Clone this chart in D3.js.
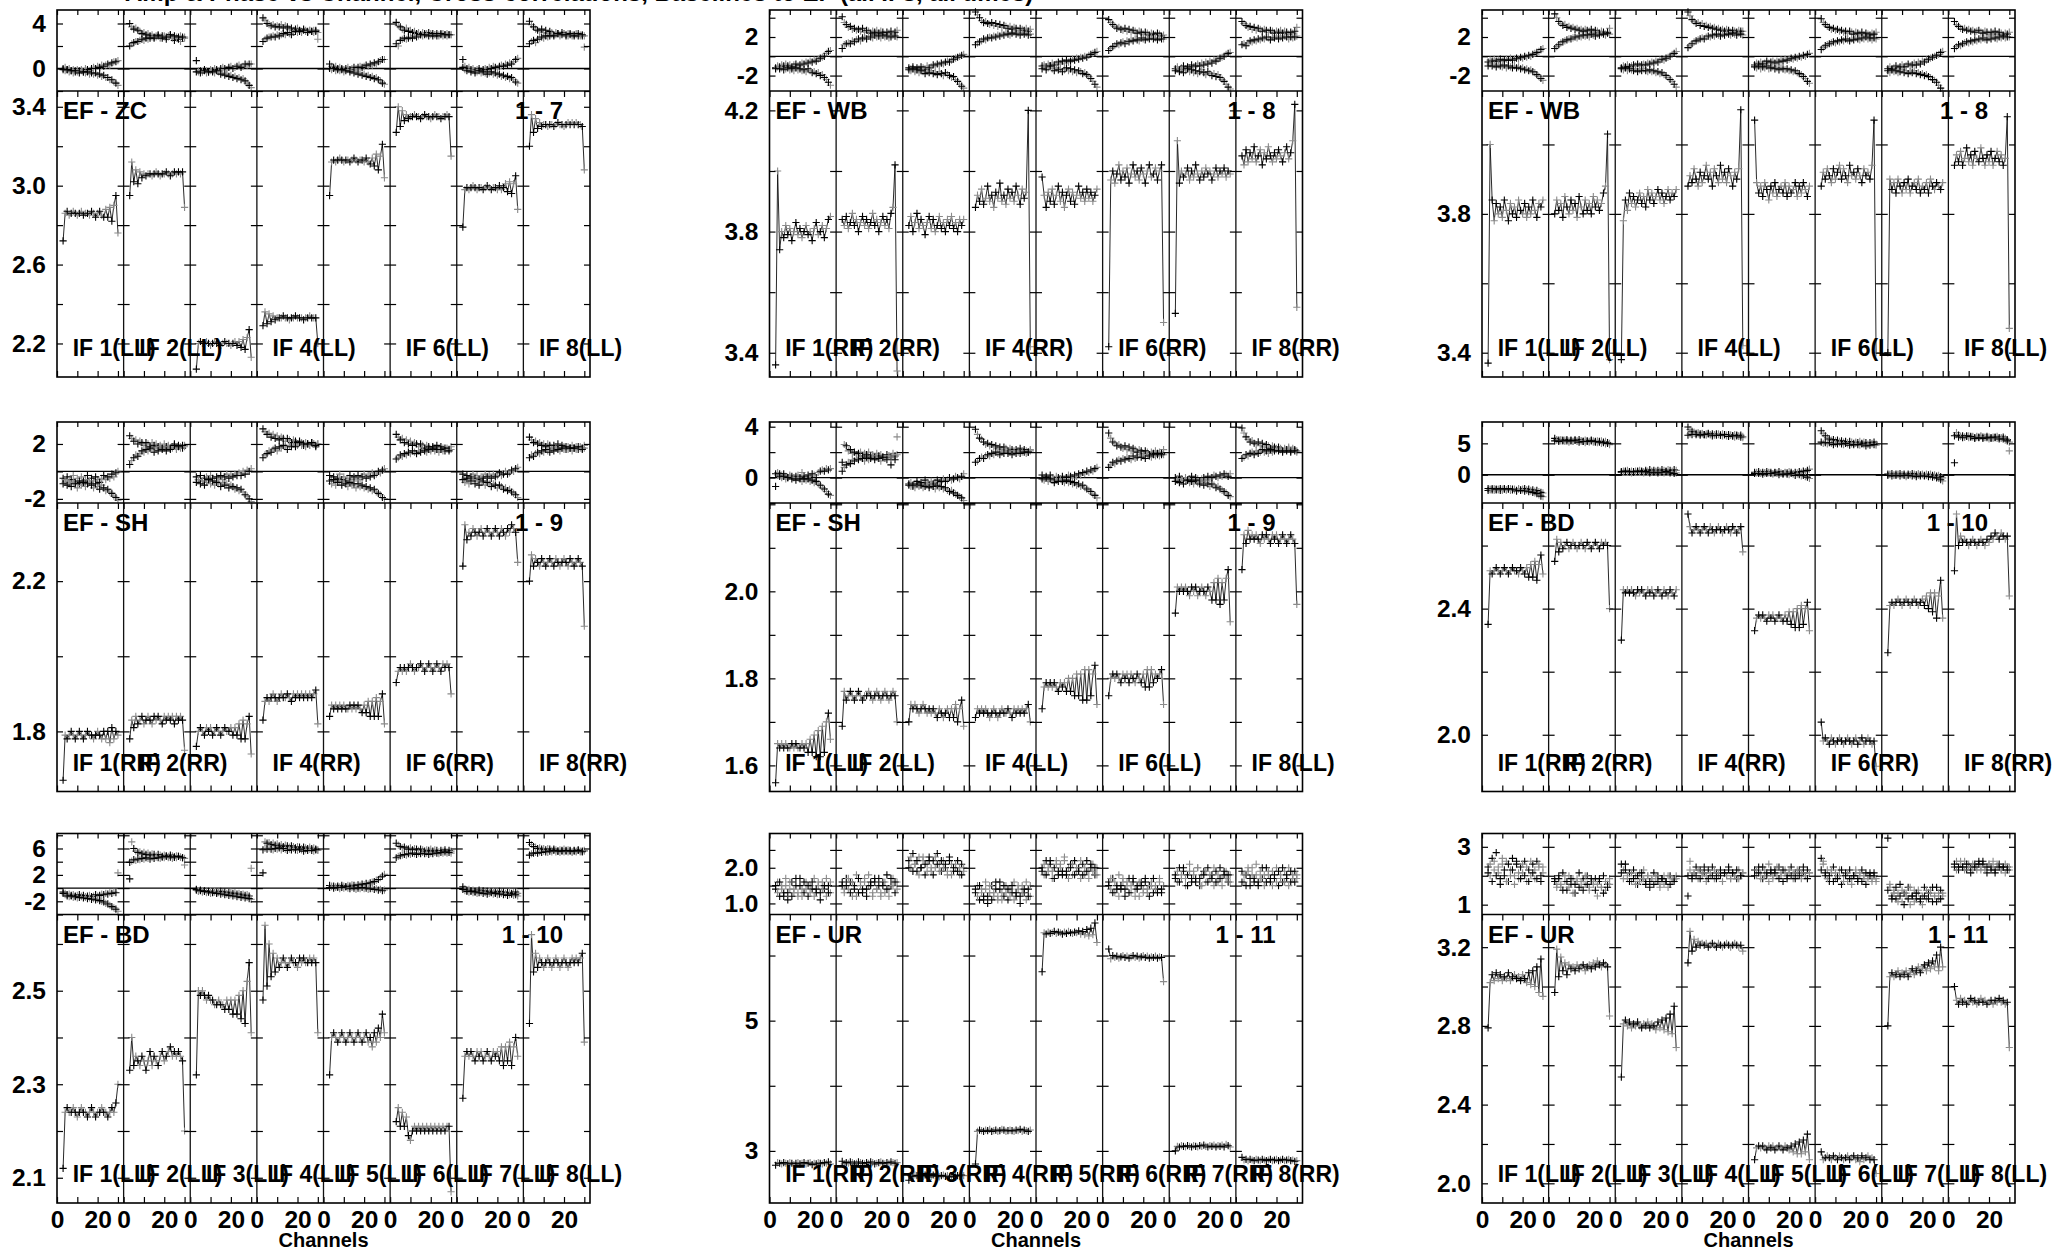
<!DOCTYPE html>
<html><head><meta charset="utf-8">
<script src="https://cdn.jsdelivr.net/npm/d3@7"></script>
<style>
html,body{margin:0;padding:0;background:#fff;}
svg{display:block;}
text{font-family:"Liberation Sans",Arial,Helvetica,sans-serif;font-weight:bold;fill:#000;}
</style></head>
<body>
<script>
// ---------------- DATA ----------------
const channels = [3,4,5,6,7,8,9,10,11,12,13,14,15,16,17,18,19,20,21,22,23,24,25,26,27,28,29,30];
const ifNames = ["IF 1","IF 2","IF 3","IF 4","IF 5","IF 6","IF 7","IF 8"];
const xTicks = [0,10,20,30];
const xTickLabels = ["0","20"];
const xAxisTitle = "Channels";
const titleText = "Amp & Phase vs Channel,  Cross-correlations,  Baselines to EF  (all IFs, all times)";

// Panel EF - ZC (LL)
const amp_ZC = [
[2.72,2.86,2.87,2.85,2.86,2.87,2.86,2.85,2.86,2.87,2.85,2.86,2.86,2.85,2.87,2.86,2.84,2.86,2.87,2.85,2.84,2.88,2.84,2.89,2.82,2.90,2.95,2.76],
[2.95,3.12,3.02,3.08,3.01,3.07,3.04,3.06,3.05,3.06,3.06,3.05,3.06,3.07,3.06,3.05,3.06,3.06,3.07,3.06,3.05,3.06,3.07,3.06,3.07,3.06,3.07,2.89],
[2.07,2.20,2.21,2.20,2.20,2.21,2.20,2.19,2.20,2.21,2.20,2.20,2.19,2.20,2.21,2.20,2.20,2.19,2.20,2.21,2.19,2.21,2.18,2.22,2.17,2.23,2.27,2.13],
[2.29,2.36,2.30,2.35,2.31,2.34,2.32,2.33,2.33,2.33,2.34,2.33,2.33,2.32,2.33,2.33,2.34,2.33,2.33,2.33,2.32,2.33,2.33,2.34,2.33,2.33,2.33,2.20],
[2.95,3.12,3.13,3.12,3.13,3.14,3.13,3.12,3.13,3.13,3.12,3.13,3.14,3.13,3.12,3.13,3.13,3.12,3.14,3.12,3.11,3.14,3.10,3.16,3.08,3.15,3.21,3.04],
[3.27,3.40,3.30,3.38,3.33,3.36,3.34,3.35,3.35,3.36,3.35,3.35,3.34,3.35,3.36,3.35,3.35,3.34,3.35,3.36,3.35,3.35,3.34,3.35,3.35,3.36,3.35,3.15],
[2.79,2.98,2.99,2.98,2.99,3.00,2.99,2.98,2.99,2.99,2.98,2.99,3.00,2.99,2.98,2.99,2.99,2.98,3.00,2.98,2.99,3.01,2.97,3.02,2.96,3.01,3.05,2.88],
[3.20,3.36,3.27,3.34,3.29,3.32,3.30,3.31,3.31,3.30,3.31,3.31,3.30,3.31,3.32,3.31,3.31,3.30,3.31,3.32,3.31,3.32,3.31,3.32,3.31,3.31,3.30,3.08]];
const phA_ZC = [
[0.0,0.1,-0.1,0.0,-0.2,-0.1,-0.3,-0.1,-0.2,-0.1,-0.3,0.0,-0.1,-0.2,0.0,0.1,0.0,0.2,0.1,0.3,0.2,0.3,0.4,0.3,0.5,0.6,0.6,0.7],
[4.0,3.7,3.5,3.6,3.4,3.3,3.1,3.2,3.0,3.1,2.9,3.0,2.8,2.9,3.0,2.7,2.9,2.8,2.6,2.8,3.0,2.7,2.5,2.8,2.6,2.4,2.7,2.8],
[0.7,-0.3,-0.2,-0.3,-0.1,-0.2,-0.3,-0.1,-0.2,0.0,-0.1,-0.2,0.0,0.1,0.0,-0.1,0.1,0.2,0.0,0.1,0.2,0.3,0.1,0.2,0.4,0.3,0.4,0.4],
[4.5,4.3,4.0,3.9,3.8,3.9,3.7,3.8,3.7,3.9,3.6,3.8,3.7,3.5,3.6,3.4,3.5,3.6,3.4,3.3,3.5,3.4,3.3,3.4,3.3,3.2,3.4,2.6],
[0.4,0.2,0.1,0.2,0.0,0.1,0.0,-0.1,0.0,0.1,-0.1,0.0,0.1,0.0,0.1,0.2,0.1,0.2,0.3,0.2,0.4,0.3,0.5,0.4,0.6,0.7,0.8,0.8],
[4.1,3.8,3.7,3.5,3.4,3.6,3.3,3.4,3.2,3.3,3.1,3.2,3.0,3.2,3.1,3.0,3.2,3.1,2.9,3.0,3.1,2.9,3.0,3.1,3.0,2.9,3.0,3.0],
[0.8,0.2,0.0,0.1,-0.1,0.0,-0.2,-0.1,0.0,-0.2,-0.1,0.0,-0.1,0.1,0.0,0.2,0.1,0.0,0.2,0.3,0.2,0.4,0.3,0.5,0.4,0.6,0.8,0.9],
[4.2,3.9,3.7,3.5,3.4,3.3,3.5,3.2,3.4,3.1,3.3,3.2,3.0,3.2,3.1,3.0,3.2,3.1,2.9,3.1,3.0,2.9,3.0,3.1,2.9,3.0,2.9,1.9]];
const phB_ZC = [
[-0.1,-0.2,-0.1,-0.3,-0.2,-0.4,-0.2,-0.3,-0.4,-0.2,-0.3,-0.4,-0.3,-0.5,-0.4,-0.5,-0.4,-0.6,-0.5,-0.7,-0.6,-0.8,-0.8,-1.0,-1.0,-1.2,-1.3,-1.5],
[2.0,2.2,2.3,2.4,2.4,2.5,2.6,2.5,2.7,2.6,2.7,2.8,2.7,2.8,2.9,2.8,2.7,2.9,2.8,2.9,3.0,2.8,2.9,2.7,2.8,2.9,2.8,2.7],
[-0.3,-0.2,-0.4,-0.3,-0.2,-0.4,-0.3,-0.2,-0.3,-0.4,-0.2,-0.3,-0.5,-0.4,-0.6,-0.5,-0.7,-0.6,-0.8,-0.7,-0.9,-0.8,-1.0,-0.9,-1.1,-1.3,-1.5,-1.7],
[2.4,2.6,2.7,2.8,2.8,2.9,2.8,3.0,2.9,3.0,3.1,3.0,3.2,3.1,3.0,3.2,3.3,3.2,3.3,3.2,3.4,3.3,3.2,3.4,3.3,3.4,3.3,3.2],
[0.0,-0.1,0.0,-0.2,-0.1,-0.2,-0.1,-0.3,-0.2,-0.1,-0.3,-0.2,-0.4,-0.3,-0.5,-0.4,-0.6,-0.5,-0.7,-0.6,-0.8,-0.7,-0.9,-0.8,-1.0,-1.1,-1.3,-1.4],
[2.2,2.0,2.5,2.6,2.7,2.6,2.7,2.8,2.7,2.9,2.8,2.9,3.0,2.9,3.0,3.1,2.9,3.0,3.1,3.0,2.9,3.0,3.1,2.9,3.0,3.1,3.0,3.0],
[0.1,-0.1,-0.2,-0.1,-0.3,-0.2,-0.4,-0.3,-0.2,-0.4,-0.3,-0.4,-0.5,-0.4,-0.3,-0.5,-0.4,-0.6,-0.5,-0.7,-0.6,-0.8,-0.7,-0.9,-0.8,-1.0,-1.2,-1.3],
[2.2,2.4,2.5,2.3,2.6,2.7,2.8,2.7,2.9,2.8,2.9,3.0,2.9,3.0,3.1,2.9,3.0,3.1,3.0,2.9,3.1,3.0,2.9,3.0,3.1,2.9,3.0,2.9]];

// Panel EF - WB (RR)
const amp_WB_RR = [
[3.36,4.00,3.74,3.80,3.78,3.82,3.79,3.81,3.77,3.80,3.83,3.79,3.81,3.78,3.80,3.82,3.79,3.80,3.77,3.81,3.83,3.79,3.80,3.82,3.78,3.81,3.84,3.85],
[3.84,3.82,3.85,3.81,3.83,3.86,3.82,3.84,3.80,3.83,3.85,3.82,3.84,3.81,3.83,3.86,3.82,3.84,3.80,3.83,3.85,3.82,3.84,3.81,3.86,3.88,4.02,3.34],
[3.82,3.85,3.80,3.83,3.86,3.81,3.84,3.82,3.79,3.83,3.85,3.81,3.84,3.80,3.82,3.85,3.81,3.83,3.80,3.84,3.82,3.85,3.81,3.83,3.80,3.84,3.82,3.84],
[3.88,3.92,3.90,3.94,3.89,3.91,3.95,3.90,3.92,3.88,3.93,3.91,3.96,3.90,3.92,3.89,3.94,3.91,3.93,3.90,3.95,3.92,3.89,3.94,3.91,3.93,4.20,3.42],
[3.98,3.92,3.88,3.93,3.90,3.94,3.89,3.92,3.95,3.90,3.93,3.88,3.92,3.94,3.90,3.93,3.89,3.92,3.95,3.91,3.93,3.90,3.94,3.91,3.93,3.90,3.92,3.94],
[3.42,3.97,4.00,3.96,3.99,4.02,3.97,4.00,3.98,4.01,3.96,3.99,4.02,3.98,4.00,3.97,4.01,3.99,3.96,4.00,4.02,3.98,3.99,4.01,3.97,4.00,4.02,3.50],
[3.53,4.10,3.96,4.00,3.98,3.99,4.01,3.97,4.00,3.98,4.02,3.99,3.97,4.00,3.98,4.01,3.99,4.00,3.97,3.99,4.01,3.98,4.00,3.99,4.01,3.98,4.00,3.99],
[4.05,4.02,4.07,4.03,4.06,4.04,4.08,4.03,4.05,4.07,4.02,4.06,4.04,4.08,4.05,4.03,4.06,4.04,4.07,4.05,4.03,4.06,4.08,4.04,4.06,4.10,4.22,3.55]];
const phA_WB_RR = [
[-1.2,-1.0,-1.1,-0.9,-1.0,-0.8,-1.0,-0.9,-1.1,-0.9,-0.8,-1.0,-0.9,-0.7,-0.8,-0.6,-0.7,-0.5,-0.6,-0.4,-0.5,-0.3,-0.2,-0.1,0.0,0.3,0.5,0.6],
[4.1,3.5,3.3,3.0,3.1,2.8,2.9,2.7,2.8,2.6,2.9,2.5,2.7,2.6,2.4,2.6,2.5,2.7,2.4,2.6,2.5,2.3,2.5,2.4,2.6,2.3,2.5,2.7],
[-1.2,-1.3,-1.1,-1.4,-1.2,-1.3,-1.1,-1.2,-1.4,-1.0,-1.2,-1.1,-0.9,-1.0,-0.8,-0.9,-0.7,-0.8,-0.6,-0.5,-0.6,-0.4,-0.3,-0.2,-0.1,0.0,0.1,0.2],
[4.6,4.3,4.0,3.7,3.5,3.6,3.4,3.3,3.5,3.2,3.4,3.1,3.3,3.0,3.2,3.1,2.9,3.1,2.8,3.0,2.9,2.7,2.9,2.8,2.7,2.9,2.6,2.8],
[-1.0,-0.9,-1.1,-0.8,-1.0,-0.7,-0.9,-0.8,-0.6,-0.8,-0.5,-0.7,-0.4,-0.6,-0.5,-0.3,-0.4,-0.2,-0.3,-0.1,-0.2,0.0,-0.1,0.1,0.2,0.3,0.4,0.5],
[3.8,3.5,3.3,3.1,2.9,3.0,2.8,2.7,2.9,2.6,2.8,2.5,2.7,2.6,2.4,2.6,2.5,2.3,2.5,2.4,2.2,2.4,2.3,2.2,2.4,2.3,2.1,2.2],
[-1.3,-1.1,-1.4,-1.2,-1.0,-1.3,-1.1,-1.2,-0.9,-1.1,-1.0,-0.8,-1.0,-0.7,-0.9,-0.6,-0.8,-0.5,-0.7,-0.4,-0.5,-0.3,-0.2,-0.1,0.0,0.2,0.3,0.4],
[3.6,3.4,3.2,3.0,3.1,2.8,3.0,2.7,2.9,2.8,2.6,2.8,2.7,2.5,2.7,2.6,2.4,2.6,2.5,2.7,2.4,2.6,2.5,2.3,2.5,2.4,2.6,3.0]];
const phB_WB_RR = [
[-1.3,-1.1,-1.3,-1.2,-1.4,-1.3,-1.2,-1.4,-1.3,-1.5,-1.2,-1.4,-1.3,-1.5,-1.4,-1.6,-1.3,-1.5,-1.7,-1.6,-1.8,-1.7,-2.0,-1.9,-2.2,-2.4,-2.7,-3.0],
[0.8,1.2,1.3,1.4,1.3,1.6,1.5,1.7,1.8,1.6,1.9,2.0,1.8,2.1,2.0,1.9,2.2,2.0,2.1,1.9,2.2,2.0,2.1,1.9,2.0,2.2,2.1,2.0],
[-1.4,-1.5,-1.3,-1.6,-1.4,-1.7,-1.5,-1.6,-1.8,-1.6,-1.7,-1.5,-1.8,-1.7,-1.9,-1.6,-1.8,-2.0,-1.7,-1.9,-2.0,-2.2,-2.1,-2.4,-2.6,-2.9,-3.1,-3.3],
[1.2,1.4,1.5,1.6,1.8,1.7,1.9,2.0,1.9,2.1,2.0,2.2,2.1,2.3,2.2,2.4,2.3,2.2,2.4,2.5,2.3,2.4,2.2,2.5,2.3,2.4,2.2,2.3],
[-1.3,-1.1,-1.4,-1.2,-1.0,-1.3,-1.5,-1.2,-1.4,-1.3,-1.6,-1.4,-1.2,-1.5,-1.3,-1.6,-1.4,-1.7,-1.5,-1.6,-1.8,-1.7,-1.9,-2.1,-2.3,-2.6,-2.9,-3.2],
[0.6,0.8,1.0,1.1,1.3,1.2,1.4,1.5,1.3,1.6,1.5,1.7,1.6,1.8,1.7,1.6,1.9,1.8,1.7,1.9,1.8,2.0,1.8,1.9,1.7,1.9,1.8,1.8],
[-1.5,-1.3,-1.6,-1.4,-1.7,-1.5,-1.3,-1.6,-1.4,-1.7,-1.5,-1.8,-1.6,-1.4,-1.7,-1.9,-1.6,-1.8,-2.0,-1.8,-2.1,-1.9,-2.2,-2.4,-2.6,-2.9,-3.2,-3.4],
[1.2,1.3,1.1,1.4,1.6,1.5,1.7,1.6,1.8,1.7,1.9,1.8,2.0,1.9,1.7,2.0,1.9,2.1,1.8,2.0,1.9,2.1,2.0,1.8,2.0,1.9,2.0,2.1]];

// Panel EF - WB (LL)
const amp_WB_LL = [
[3.37,4.00,3.84,3.78,3.83,3.80,3.82,3.79,3.84,3.81,3.78,3.83,3.80,3.82,3.79,3.84,3.81,3.80,3.83,3.79,3.82,3.80,3.84,3.81,3.79,3.83,3.82,3.84],
[3.80,3.84,3.81,3.83,3.79,3.85,3.82,3.80,3.84,3.81,3.83,3.79,3.85,3.82,3.80,3.84,3.81,3.83,3.80,3.85,3.82,3.84,3.81,3.83,3.86,3.88,4.03,3.38],
[3.38,3.78,3.84,3.81,3.86,3.83,3.85,3.82,3.84,3.86,3.83,3.85,3.82,3.87,3.84,3.86,3.83,3.85,3.87,3.84,3.86,3.83,3.85,3.87,3.84,3.86,3.85,3.87],
[3.88,3.91,3.89,3.93,3.90,3.88,3.92,3.89,3.91,3.94,3.90,3.92,3.88,3.93,3.91,3.89,3.94,3.90,3.92,3.89,3.93,3.91,3.88,3.92,3.90,3.93,4.10,3.42],
[4.07,3.89,3.86,3.88,3.85,3.89,3.87,3.84,3.88,3.86,3.89,3.85,3.87,3.88,3.86,3.89,3.85,3.88,3.86,3.87,3.89,3.85,3.88,3.86,3.89,3.87,3.85,3.88],
[3.88,3.92,3.90,3.93,3.91,3.89,3.93,3.90,3.92,3.94,3.90,3.93,3.91,3.89,3.94,3.91,3.92,3.90,3.93,3.91,3.89,3.93,3.91,3.92,3.90,3.94,4.07,3.40],
[3.40,3.90,3.87,3.89,3.86,3.90,3.88,3.86,3.89,3.87,3.90,3.86,3.88,3.89,3.87,3.90,3.86,3.88,3.87,3.89,3.86,3.90,3.88,3.87,3.89,3.88,3.87,3.89],
[3.94,3.97,3.95,3.98,3.94,3.96,3.99,3.95,3.97,3.94,3.98,3.96,3.95,3.99,3.96,3.94,3.97,3.95,3.98,3.94,3.96,3.98,3.95,3.97,3.94,3.96,4.08,3.47]];
const phA_WB_LL = [
[-0.6,-0.4,-0.5,-0.3,-0.5,-0.4,-0.3,-0.5,-0.4,-0.3,-0.4,-0.2,-0.4,-0.3,-0.2,-0.3,-0.1,-0.2,0.0,-0.1,0.1,0.0,0.2,0.3,0.4,0.5,0.7,0.8],
[4.4,4.0,3.6,3.4,3.2,3.3,3.0,3.1,2.9,3.0,2.8,2.9,2.7,2.8,2.6,2.8,2.7,2.6,2.8,2.5,2.7,2.6,2.4,2.6,2.5,2.3,2.5,2.9],
[-1.2,-1.0,-1.1,-0.9,-1.1,-1.0,-0.9,-1.0,-0.8,-1.0,-0.9,-0.8,-0.9,-0.7,-0.8,-0.6,-0.7,-0.5,-0.6,-0.4,-0.3,-0.4,-0.2,-0.1,0.0,0.2,0.3,0.5],
[4.6,4.2,3.8,3.6,3.4,3.5,3.2,3.4,3.1,3.2,3.0,3.1,2.9,3.0,2.8,2.9,2.7,2.8,2.6,2.8,2.7,2.5,2.7,2.6,2.5,2.7,2.6,2.6],
[-0.9,-0.7,-0.8,-0.6,-0.8,-0.7,-0.5,-0.7,-0.6,-0.5,-0.7,-0.5,-0.6,-0.4,-0.5,-0.3,-0.4,-0.3,-0.2,-0.3,-0.1,-0.2,0.0,-0.1,0.1,0.0,0.2,0.3],
[3.9,3.5,3.3,3.1,3.0,2.8,2.9,2.7,2.8,2.6,2.7,2.5,2.6,2.4,2.6,2.5,2.3,2.5,2.4,2.3,2.5,2.2,2.4,2.3,2.2,2.4,2.3,2.5],
[-1.3,-1.1,-1.3,-1.2,-1.0,-1.2,-1.1,-0.9,-1.1,-1.0,-0.8,-1.0,-0.9,-0.7,-0.9,-0.6,-0.8,-0.5,-0.6,-0.4,-0.3,-0.2,-0.1,0.0,0.1,0.2,0.4,0.5],
[3.6,3.3,3.1,2.9,2.8,2.9,2.7,2.8,2.6,2.7,2.5,2.6,2.7,2.5,2.4,2.6,2.5,2.3,2.5,2.4,2.6,2.3,2.5,2.4,2.2,2.4,2.3,2.5]];
const phB_WB_LL = [
[-1.0,-0.8,-1.0,-0.9,-1.1,-0.9,-1.0,-1.1,-0.9,-1.2,-1.0,-1.1,-1.2,-1.0,-1.2,-1.1,-1.3,-1.2,-1.4,-1.3,-1.5,-1.4,-1.6,-1.7,-1.9,-2.1,-2.3,-2.5],
[0.8,1.0,1.2,1.4,1.5,1.6,1.7,1.8,1.8,1.9,2.0,1.9,2.1,2.0,2.2,2.1,2.2,2.0,2.3,2.2,2.1,2.3,2.2,2.4,2.3,2.2,2.4,2.3],
[-1.3,-1.4,-1.2,-1.5,-1.3,-1.4,-1.5,-1.3,-1.6,-1.4,-1.5,-1.3,-1.5,-1.6,-1.4,-1.6,-1.5,-1.7,-1.6,-1.8,-1.7,-1.9,-2.0,-2.2,-2.4,-2.6,-2.9,-3.2],
[0.9,1.1,1.3,1.5,1.6,1.7,1.8,1.9,1.8,2.0,2.1,2.0,2.2,2.1,2.3,2.2,2.1,2.3,2.2,2.4,2.3,2.2,2.4,2.3,2.2,2.4,2.3,2.2],
[-1.1,-1.2,-1.0,-1.3,-1.1,-1.2,-1.0,-1.3,-1.2,-1.1,-1.3,-1.2,-1.4,-1.2,-1.3,-1.4,-1.3,-1.5,-1.4,-1.6,-1.5,-1.7,-1.8,-1.9,-2.1,-2.3,-2.6,-2.8],
[0.7,0.9,1.1,1.2,1.3,1.4,1.5,1.4,1.6,1.5,1.7,1.6,1.8,1.7,1.6,1.8,1.7,1.9,1.8,1.7,1.9,1.8,2.0,1.8,1.9,1.7,1.9,1.8],
[-1.5,-1.7,-1.4,-1.6,-1.5,-1.7,-1.6,-1.4,-1.7,-1.5,-1.8,-1.6,-1.7,-1.5,-1.8,-1.7,-1.9,-1.8,-2.0,-1.9,-2.1,-2.2,-2.4,-2.5,-2.7,-3.0,-3.3,-3.6],
[0.8,1.0,1.2,1.1,1.3,1.4,1.5,1.4,1.6,1.5,1.7,1.6,1.8,1.7,1.9,1.8,1.7,1.9,1.8,2.0,1.9,1.8,2.0,1.9,2.1,1.9,2.0,2.0]];

// Panel EF - SH (RR)
const amp_SH_RR = [
[1.67,1.79,1.78,1.79,1.80,1.79,1.78,1.79,1.80,1.79,1.78,1.79,1.80,1.79,1.79,1.78,1.79,1.80,1.79,1.78,1.80,1.78,1.80,1.77,1.81,1.78,1.80,1.79],
[1.78,1.83,1.81,1.84,1.82,1.83,1.84,1.82,1.83,1.84,1.83,1.82,1.84,1.83,1.84,1.83,1.82,1.84,1.83,1.84,1.83,1.84,1.82,1.84,1.83,1.84,1.83,1.75],
[1.76,1.80,1.81,1.80,1.79,1.81,1.80,1.81,1.79,1.80,1.81,1.80,1.79,1.80,1.81,1.80,1.80,1.81,1.79,1.81,1.79,1.82,1.78,1.83,1.78,1.82,1.84,1.74],
[1.83,1.88,1.89,1.88,1.89,1.90,1.89,1.88,1.89,1.90,1.89,1.89,1.90,1.89,1.88,1.90,1.89,1.90,1.89,1.90,1.89,1.90,1.89,1.90,1.89,1.90,1.91,1.82],
[1.84,1.87,1.86,1.87,1.86,1.87,1.86,1.87,1.86,1.86,1.87,1.86,1.87,1.86,1.87,1.86,1.85,1.87,1.85,1.88,1.84,1.88,1.84,1.89,1.84,1.88,1.90,1.82],
[1.93,1.96,1.97,1.96,1.97,1.96,1.97,1.98,1.97,1.96,1.97,1.97,1.98,1.97,1.96,1.97,1.98,1.97,1.96,1.97,1.98,1.97,1.96,1.98,1.97,1.98,1.97,1.90],
[2.24,2.35,2.31,2.33,2.32,2.34,2.33,2.32,2.33,2.34,2.32,2.33,2.34,2.33,2.32,2.33,2.34,2.33,2.32,2.34,2.33,2.32,2.34,2.33,2.35,2.34,2.33,2.25],
[2.20,2.27,2.24,2.26,2.25,2.24,2.26,2.25,2.24,2.25,2.26,2.25,2.24,2.26,2.25,2.24,2.25,2.26,2.25,2.24,2.26,2.25,2.24,2.25,2.26,2.25,2.24,2.08]];
const phA_SH_RR = [
[-0.5,-0.8,-0.4,-0.9,-0.6,-0.3,-0.8,-0.5,-0.9,-0.4,-0.7,-0.6,-0.3,-0.8,-0.5,-0.7,-0.4,-0.6,-0.8,-0.5,-0.3,-0.6,-0.4,-0.5,-0.2,-0.4,-0.1,0.0],
[2.6,2.4,2.2,2.3,2.0,2.2,2.1,1.9,2.1,2.0,1.8,2.1,1.9,2.0,1.8,1.9,1.7,2.0,1.8,1.9,1.7,1.8,2.0,1.7,1.9,1.8,1.7,1.9],
[-0.4,-0.6,-0.3,-0.7,-0.5,-0.4,-0.6,-0.3,-0.5,-0.7,-0.4,-0.5,-0.3,-0.6,-0.4,-0.2,-0.5,-0.3,-0.4,-0.2,-0.3,-0.1,-0.3,0.0,-0.2,0.1,0.0,0.2],
[3.1,2.9,2.7,2.8,2.5,2.7,2.4,2.6,2.3,2.5,2.4,2.2,2.4,2.3,2.1,2.3,2.2,2.0,2.2,2.1,1.9,2.1,2.0,1.9,2.1,2.0,1.8,2.0],
[-0.3,-0.6,-0.4,-0.7,-0.5,-0.2,-0.6,-0.4,-0.7,-0.5,-0.3,-0.6,-0.4,-0.5,-0.3,-0.6,-0.4,-0.2,-0.5,-0.3,-0.4,-0.1,-0.3,-0.2,0.0,-0.1,0.1,0.2],
[2.7,2.5,2.3,2.4,2.1,2.3,2.0,2.2,1.9,2.1,2.0,1.8,2.0,1.9,1.7,1.9,1.8,1.6,1.8,1.7,1.9,1.6,1.8,1.7,1.5,1.7,1.6,1.8],
[-0.2,-0.5,-0.3,-0.6,-0.4,-0.2,-0.5,-0.3,-0.6,-0.4,-0.5,-0.2,-0.4,-0.3,-0.5,-0.2,-0.4,-0.3,-0.1,-0.3,-0.2,0.0,-0.2,-0.1,0.1,0.0,0.2,0.3],
[2.5,2.3,2.1,2.2,2.0,2.1,1.9,2.0,1.8,2.0,1.9,1.7,1.9,1.8,2.0,1.7,1.9,1.8,1.6,1.8,1.7,1.9,1.7,1.8,1.6,1.8,1.7,1.9]];
const phB_SH_RR = [
[-0.9,-0.6,-1.0,-0.7,-1.1,-0.8,-0.9,-1.2,-0.7,-1.0,-0.8,-1.1,-0.9,-0.7,-1.0,-1.2,-0.9,-1.1,-1.3,-1.0,-1.2,-1.4,-1.3,-1.5,-1.6,-1.8,-1.9,-2.1],
[0.5,0.8,1.0,1.2,1.1,1.3,1.5,1.4,1.6,1.5,1.7,1.6,1.4,1.7,1.5,1.8,1.6,1.7,1.5,1.8,1.6,1.7,1.9,1.6,1.8,1.7,1.9,1.8],
[-0.8,-0.6,-0.9,-0.7,-1.0,-0.8,-0.6,-0.9,-0.7,-1.0,-0.8,-0.9,-1.1,-0.8,-1.0,-0.9,-1.2,-1.0,-1.1,-1.3,-1.2,-1.4,-1.3,-1.5,-1.7,-1.8,-2.0,-2.2],
[1.0,1.2,1.3,1.5,1.4,1.6,1.7,1.5,1.8,1.7,1.9,1.8,1.6,1.9,1.8,2.0,1.8,1.9,2.1,1.9,2.0,1.8,2.0,1.9,2.1,2.0,1.9,2.0],
[-0.7,-0.9,-0.6,-1.0,-0.8,-0.7,-1.0,-0.8,-0.9,-1.1,-0.8,-1.0,-0.9,-1.2,-0.9,-1.1,-1.0,-1.2,-1.1,-1.3,-1.2,-1.4,-1.3,-1.5,-1.6,-1.7,-1.9,-2.0],
[0.9,1.0,1.2,1.1,1.3,1.2,1.4,1.3,1.5,1.4,1.3,1.5,1.4,1.6,1.5,1.4,1.6,1.5,1.7,1.5,1.6,1.4,1.6,1.5,1.7,1.6,1.5,1.6],
[-0.6,-0.8,-0.5,-0.9,-0.7,-0.6,-0.9,-0.7,-1.0,-0.8,-0.7,-1.0,-0.8,-0.9,-1.1,-0.9,-1.0,-1.2,-1.0,-1.1,-1.3,-1.2,-1.4,-1.3,-1.5,-1.6,-1.7,-1.9],
[1.0,1.2,1.1,1.3,1.4,1.3,1.5,1.4,1.6,1.5,1.4,1.6,1.5,1.7,1.6,1.5,1.7,1.6,1.8,1.6,1.7,1.5,1.7,1.6,1.8,1.7,1.6,1.7]];

// Panel EF - SH (LL)
const amp_SH_LL = [
[1.56,1.65,1.64,1.65,1.64,1.65,1.64,1.64,1.65,1.64,1.65,1.64,1.64,1.65,1.64,1.65,1.63,1.66,1.63,1.67,1.62,1.68,1.62,1.69,1.63,1.70,1.72,1.66],
[1.69,1.77,1.75,1.76,1.77,1.76,1.75,1.76,1.77,1.76,1.75,1.76,1.76,1.77,1.76,1.75,1.76,1.77,1.76,1.75,1.76,1.77,1.76,1.75,1.76,1.77,1.76,1.70],
[1.70,1.74,1.73,1.74,1.73,1.72,1.73,1.74,1.73,1.72,1.73,1.72,1.73,1.72,1.71,1.73,1.72,1.71,1.72,1.73,1.71,1.73,1.71,1.74,1.70,1.73,1.75,1.69],
[1.71,1.73,1.72,1.73,1.72,1.73,1.72,1.71,1.72,1.73,1.72,1.71,1.72,1.73,1.72,1.72,1.73,1.72,1.71,1.73,1.72,1.73,1.72,1.73,1.72,1.73,1.74,1.70],
[1.73,1.78,1.79,1.78,1.79,1.78,1.79,1.78,1.77,1.79,1.78,1.79,1.77,1.80,1.77,1.80,1.76,1.81,1.76,1.81,1.75,1.82,1.75,1.82,1.76,1.81,1.83,1.74],
[1.76,1.80,1.81,1.80,1.81,1.80,1.79,1.81,1.80,1.81,1.79,1.81,1.80,1.79,1.81,1.80,1.79,1.81,1.78,1.82,1.78,1.82,1.79,1.81,1.80,1.81,1.82,1.74],
[1.95,2.01,2.00,2.01,2.00,2.01,2.00,1.99,2.01,2.00,2.01,1.99,2.00,2.01,2.00,1.99,2.01,2.00,1.98,2.02,1.98,2.03,1.97,2.02,1.98,2.03,2.05,1.93],
[2.05,2.13,2.11,2.14,2.12,2.13,2.12,2.13,2.12,2.11,2.13,2.12,2.13,2.12,2.11,2.13,2.12,2.13,2.11,2.12,2.13,2.12,2.11,2.12,2.13,2.12,2.11,1.97]];
const phA_SH_LL = [
[-0.7,0.4,0.3,0.2,0.3,0.1,0.0,0.2,0.1,0.0,0.1,0.2,0.0,0.4,0.1,0.0,0.2,0.1,0.3,0.2,0.0,0.4,0.5,0.6,0.5,0.7,0.6,0.7],
[1.2,2.6,2.5,2.1,2.2,1.9,2.0,1.8,1.9,2.0,1.7,1.9,1.8,2.0,1.7,1.8,1.6,1.9,1.7,1.8,1.6,1.5,1.8,1.7,1.6,1.9,1.7,3.2],
[-0.6,-0.4,-0.7,-0.5,-0.3,-0.6,-0.4,-0.5,-0.2,-0.4,-0.6,-0.3,-0.5,-0.4,-0.2,-0.4,-0.3,-0.1,-0.3,-0.2,0.0,-0.2,-0.1,0.1,0.0,-0.1,0.1,0.3],
[3.8,3.4,3.1,3.0,2.8,2.6,2.7,2.5,2.6,2.4,2.5,2.3,2.4,2.2,2.4,2.3,2.1,2.3,2.2,2.0,2.2,2.1,2.3,2.0,2.2,2.1,2.0,2.2],
[0.2,0.0,0.1,-0.1,0.2,0.0,-0.2,0.1,0.0,-0.1,0.1,-0.2,0.0,0.2,0.1,0.0,0.2,0.1,0.3,0.2,0.4,0.3,0.5,0.4,0.6,0.5,0.7,0.8],
[3.5,3.1,2.8,2.7,2.5,2.6,2.4,2.3,2.5,2.2,2.4,2.1,2.3,2.2,2.0,2.2,2.1,1.9,2.1,2.0,1.8,2.0,1.9,2.1,1.8,2.0,1.9,2.2],
[0.0,-0.2,0.1,-0.1,-0.3,0.0,-0.2,-0.1,0.1,-0.2,0.0,-0.1,-0.3,-0.1,0.0,-0.2,0.1,-0.1,0.0,0.2,0.1,0.0,0.2,0.1,0.3,0.2,0.1,0.3],
[3.9,3.5,3.2,3.0,2.8,2.9,2.7,2.6,2.8,2.5,2.7,2.4,2.6,2.5,2.3,2.5,2.4,2.2,2.4,2.3,2.1,2.3,2.2,2.4,2.1,2.3,2.2,2.1]];
const phB_SH_LL = [
[0.3,0.2,0.1,0.0,0.1,-0.1,0.0,0.1,-0.1,0.0,-0.2,0.0,-0.1,-0.3,-0.1,-0.2,-0.1,-0.3,-0.2,-0.4,-0.3,-0.5,-0.6,-0.8,-0.9,-1.1,-1.3,-1.4],
[0.5,0.8,1.0,1.2,1.1,1.4,1.3,1.5,1.4,1.6,1.5,1.3,1.6,1.4,1.5,1.7,1.4,1.6,1.5,1.3,1.6,1.5,1.4,1.7,1.0,1.6,1.4,1.8],
[-0.5,-0.7,-0.6,-0.8,-0.5,-0.7,-0.6,-0.8,-0.7,-0.5,-0.8,-0.6,-0.7,-0.9,-0.6,-0.8,-0.7,-0.9,-0.8,-1.0,-1.1,-1.0,-1.2,-1.3,-1.4,-1.5,-1.6,-1.8],
[1.2,1.3,1.5,1.6,1.5,1.7,1.8,1.7,1.9,1.8,2.0,1.9,1.8,2.0,1.9,2.1,1.9,2.0,1.8,2.1,1.9,2.0,1.9,2.1,2.0,1.9,2.0,2.1],
[-0.1,-0.2,0.0,-0.3,-0.1,-0.2,-0.4,-0.2,-0.3,-0.1,-0.3,-0.4,-0.2,-0.4,-0.3,-0.5,-0.4,-0.6,-0.5,-0.7,-0.6,-0.8,-0.9,-1.0,-1.1,-1.3,-1.4,-1.6],
[0.8,1.0,1.2,1.1,1.3,1.4,1.3,1.5,1.4,1.6,1.5,1.4,1.7,1.5,1.6,1.8,1.6,1.7,1.5,1.8,1.7,1.6,1.8,1.7,1.9,1.7,1.8,1.8],
[-0.3,-0.1,-0.4,-0.2,-0.5,-0.3,-0.2,-0.4,-0.3,-0.5,-0.2,-0.4,-0.5,-0.3,-0.6,-0.4,-0.5,-0.7,-0.5,-0.6,-0.8,-0.7,-0.9,-1.0,-1.1,-1.2,-1.4,-1.5],
[1.5,1.6,1.8,1.7,1.9,2.0,1.8,2.1,1.9,2.0,2.2,2.0,2.1,1.9,2.2,2.0,2.1,2.3,2.1,2.2,2.0,2.2,2.1,2.3,2.0,2.2,2.1,2.0]];

// Panel EF - BD (RR)
const amp_BD_RR = [
[2.35,2.52,2.51,2.52,2.53,2.52,2.51,2.52,2.53,2.52,2.51,2.52,2.53,2.52,2.52,2.51,2.53,2.52,2.51,2.53,2.50,2.54,2.50,2.55,2.49,2.54,2.57,2.51],
[2.55,2.62,2.58,2.61,2.59,2.60,2.61,2.59,2.60,2.61,2.60,2.59,2.60,2.61,2.60,2.59,2.61,2.60,2.59,2.60,2.61,2.60,2.59,2.61,2.60,2.61,2.60,2.40],
[2.30,2.46,2.45,2.46,2.45,2.46,2.45,2.44,2.46,2.45,2.46,2.45,2.44,2.46,2.45,2.46,2.44,2.45,2.46,2.45,2.44,2.46,2.45,2.44,2.46,2.45,2.44,2.46],
[2.70,2.66,2.64,2.65,2.66,2.65,2.64,2.65,2.66,2.65,2.64,2.66,2.65,2.64,2.65,2.66,2.65,2.64,2.65,2.66,2.65,2.64,2.66,2.65,2.64,2.65,2.66,2.58],
[2.33,2.37,2.38,2.37,2.38,2.37,2.36,2.38,2.37,2.38,2.36,2.37,2.38,2.37,2.36,2.38,2.36,2.39,2.35,2.39,2.34,2.40,2.34,2.41,2.35,2.40,2.42,2.33],
[2.04,1.98,1.99,1.98,1.97,1.99,1.98,1.97,1.98,1.99,1.98,1.97,1.98,1.99,1.98,1.97,1.98,1.99,1.97,1.98,1.99,1.97,1.98,1.99,1.98,1.97,1.98,1.90],
[2.26,2.41,2.42,2.41,2.42,2.43,2.42,2.41,2.42,2.43,2.42,2.41,2.42,2.43,2.42,2.41,2.42,2.43,2.41,2.44,2.40,2.45,2.39,2.45,2.37,2.44,2.49,2.37],
[2.52,2.70,2.60,2.63,2.61,2.62,2.61,2.60,2.61,2.62,2.61,2.60,2.61,2.62,2.61,2.60,2.62,2.61,2.63,2.62,2.64,2.63,2.62,2.64,2.63,2.62,2.63,2.44]];
const phA_BD_RR = [
[-2.5,-2.3,-2.4,-2.2,-2.4,-2.3,-2.5,-2.3,-2.2,-2.4,-2.3,-2.2,-2.4,-2.3,-2.5,-2.2,-2.4,-2.3,-2.2,-2.4,-2.3,-2.5,-2.4,-2.6,-2.5,-2.7,-2.8,-2.9],
[5.8,5.6,5.5,5.6,5.4,5.5,5.6,5.4,5.5,5.3,5.5,5.4,5.6,5.4,5.3,5.5,5.4,5.3,5.5,5.4,5.2,5.4,5.3,5.4,5.2,5.3,5.1,5.0],
[0.4,0.6,0.5,0.7,0.5,0.6,0.4,0.6,0.5,0.7,0.6,0.5,0.7,0.6,0.8,0.6,0.7,0.5,0.7,0.6,0.8,0.7,0.6,0.8,0.7,0.6,0.8,0.7],
[7.6,7.2,6.9,6.8,6.6,6.7,6.5,6.6,6.4,6.5,6.6,6.4,6.5,6.3,6.5,6.4,6.3,6.5,6.4,6.2,6.4,6.3,6.2,6.4,6.3,6.2,6.3,6.1],
[0.4,0.3,0.5,0.2,0.4,0.3,0.5,0.3,0.4,0.2,0.4,0.3,0.5,0.3,0.2,0.4,0.3,0.5,0.4,0.2,0.4,0.3,0.5,0.4,0.6,0.5,0.7,0.9],
[7.0,6.6,6.2,5.9,5.7,5.5,5.6,5.4,5.5,5.3,5.4,5.2,5.3,5.1,5.3,5.2,5.0,5.2,5.1,5.3,5.0,5.2,5.1,4.9,5.1,5.0,5.2,4.9],
[0.1,0.0,0.2,-0.1,0.1,0.0,0.2,0.0,0.1,-0.1,0.1,0.0,0.2,0.1,0.0,0.2,0.0,0.1,-0.1,0.1,0.0,0.1,-0.1,0.0,-0.2,-0.1,-0.3,-0.5],
[1.9,6.7,6.3,6.1,6.2,6.0,6.1,6.2,6.0,6.1,5.9,6.1,6.0,6.2,6.0,5.9,6.1,6.0,5.8,6.0,5.9,6.1,5.9,5.8,6.0,5.8,5.6,3.8]];
const phB_BD_RR = [
[-2.2,-2.4,-2.2,-2.5,-2.3,-2.4,-2.2,-2.5,-2.3,-2.4,-2.2,-2.5,-2.3,-2.4,-2.6,-2.3,-2.5,-2.4,-2.6,-2.5,-2.7,-2.6,-2.8,-2.9,-3.0,-3.2,-3.4,-3.5],
[5.4,5.5,5.3,5.4,5.5,5.3,5.4,5.2,5.4,5.3,5.5,5.3,5.2,5.4,5.3,5.1,5.3,5.2,5.4,5.2,5.3,5.1,5.2,5.0,5.1,4.9,5.0,4.8],
[0.5,0.4,0.6,0.4,0.5,0.3,0.5,0.4,0.6,0.4,0.5,0.3,0.5,0.4,0.3,0.5,0.4,0.6,0.3,0.5,0.4,0.3,0.5,0.4,0.3,0.4,0.2,0.3],
[6.3,6.5,6.4,6.6,6.4,6.5,6.3,6.5,6.4,6.3,6.5,6.4,6.2,6.4,6.3,6.5,6.3,6.2,6.4,6.3,6.1,6.3,6.2,6.0,6.2,6.1,6.0,5.9],
[0.2,0.4,0.2,0.3,0.1,0.3,0.2,0.4,0.2,0.1,0.3,0.2,0.0,0.2,0.1,0.3,0.1,0.0,0.2,0.1,-0.1,0.1,0.0,-0.2,-0.1,-0.3,-0.4,-0.6],
[5.2,5.0,5.1,4.9,5.1,5.0,4.8,5.0,4.9,5.1,4.9,4.8,5.0,4.9,4.7,4.9,4.8,5.0,4.8,4.7,4.9,4.8,4.6,4.8,4.7,4.9,4.8,4.7],
[-0.1,0.1,-0.2,0.0,-0.1,0.1,-0.2,0.0,-0.1,-0.3,-0.1,0.0,-0.2,-0.1,-0.3,-0.1,-0.2,0.0,-0.2,-0.1,-0.3,-0.2,-0.4,-0.3,-0.5,-0.6,-0.8,-1.0],
[6.2,6.4,6.0,6.1,5.9,6.0,6.2,5.9,6.1,6.0,5.8,6.0,5.9,6.1,5.8,6.0,5.9,5.7,5.9,5.8,6.0,5.8,5.7,5.9,5.7,5.5,5.4,5.2]];

// Panel EF - BD (LL)
const amp_BD_LL = [
[2.12,2.24,2.25,2.24,2.24,2.25,2.24,2.23,2.24,2.25,2.24,2.24,2.23,2.24,2.25,2.24,2.23,2.24,2.24,2.25,2.24,2.24,2.23,2.24,2.25,2.24,2.26,2.30],
[2.33,2.40,2.34,2.36,2.35,2.34,2.36,2.35,2.33,2.35,2.37,2.34,2.36,2.35,2.34,2.36,2.37,2.35,2.36,2.37,2.38,2.36,2.37,2.36,2.37,2.36,2.35,2.20],
[2.32,2.50,2.49,2.50,2.49,2.48,2.49,2.48,2.48,2.47,2.47,2.48,2.47,2.47,2.46,2.48,2.46,2.48,2.45,2.48,2.45,2.49,2.44,2.50,2.43,2.52,2.56,2.41],
[2.48,2.64,2.51,2.60,2.53,2.58,2.54,2.57,2.55,2.56,2.57,2.56,2.55,2.56,2.57,2.56,2.56,2.55,2.57,2.56,2.57,2.56,2.56,2.57,2.56,2.57,2.56,2.41],
[2.32,2.40,2.41,2.40,2.39,2.40,2.41,2.40,2.39,2.40,2.41,2.40,2.39,2.40,2.41,2.40,2.39,2.40,2.41,2.39,2.40,2.38,2.41,2.39,2.42,2.40,2.45,2.41],
[2.22,2.25,2.21,2.24,2.21,2.23,2.19,2.18,2.20,2.21,2.20,2.21,2.20,2.21,2.20,2.21,2.20,2.21,2.20,2.21,2.20,2.21,2.20,2.21,2.20,2.21,2.21,2.07],
[2.27,2.36,2.37,2.36,2.37,2.36,2.35,2.37,2.36,2.37,2.35,2.36,2.37,2.36,2.35,2.37,2.36,2.37,2.35,2.38,2.34,2.38,2.35,2.39,2.34,2.38,2.40,2.36],
[2.43,2.62,2.54,2.58,2.55,2.57,2.56,2.55,2.56,2.57,2.56,2.55,2.56,2.57,2.56,2.55,2.56,2.57,2.56,2.55,2.56,2.57,2.56,2.57,2.56,2.57,2.58,2.39]];
const phA_BD_LL = [
[-0.6,-0.8,-1.0,-0.9,-1.1,-1.0,-1.2,-1.1,-1.0,-1.2,-1.1,-1.3,-1.2,-1.1,-1.3,-1.2,-1.0,-1.2,-1.1,-0.9,-1.0,-0.8,-0.9,-0.7,-0.8,-0.6,-0.7,2.3],
[1.4,7.0,6.0,5.6,5.4,5.5,5.2,5.4,5.1,5.3,5.0,5.2,5.1,4.9,5.1,5.0,4.8,5.0,4.9,4.8,5.0,4.9,4.7,4.9,4.8,4.7,4.6,3.5],
[-0.2,-0.4,-0.3,-0.5,-0.4,-0.6,-0.5,-0.4,-0.6,-0.5,-0.7,-0.6,-0.5,-0.7,-0.6,-0.8,-0.7,-0.6,-0.8,-0.7,-0.9,-0.8,-1.0,-0.9,-1.1,-1.0,-1.2,3.0],
[2.3,7.0,6.8,6.9,6.6,6.8,6.5,6.7,6.4,6.6,6.3,6.5,6.4,6.2,6.4,6.3,6.1,6.3,6.2,6.0,6.2,6.1,6.0,6.2,6.0,6.1,5.9,5.8],
[0.4,0.2,0.3,0.1,0.3,0.2,0.4,0.3,0.2,0.4,0.3,0.5,0.4,0.3,0.5,0.4,0.6,0.5,0.7,0.6,0.8,0.9,1.0,1.2,1.3,1.6,1.8,2.1],
[6.8,6.5,6.3,6.1,6.2,6.0,5.9,6.1,5.8,6.0,5.9,5.7,5.9,5.8,5.6,5.8,5.7,5.9,5.6,5.8,5.7,5.5,5.7,5.6,5.8,5.5,5.7,5.6],
[0.2,-0.1,-0.3,-0.2,-0.4,-0.3,-0.5,-0.4,-0.3,-0.5,-0.4,-0.6,-0.5,-0.4,-0.6,-0.5,-0.7,-0.6,-0.5,-0.7,-0.6,-0.8,-0.7,-0.6,-0.8,-0.7,-0.6,-0.8],
[6.9,6.6,6.3,6.2,6.0,6.1,5.9,6.0,5.8,6.0,5.9,5.7,5.9,5.8,5.6,5.8,5.7,5.9,5.6,5.8,5.7,5.5,5.7,5.6,5.8,5.5,5.6,5.7]];
const phB_BD_LL = [
[-0.8,-1.0,-1.2,-1.3,-1.2,-1.4,-1.3,-1.5,-1.4,-1.3,-1.5,-1.4,-1.6,-1.5,-1.7,-1.6,-1.8,-1.7,-1.9,-2.0,-2.1,-2.3,-2.4,-2.6,-2.8,-3.0,-3.2,-3.5],
[3.9,4.1,4.3,4.2,4.4,4.3,4.5,4.4,4.6,4.5,4.4,4.6,4.5,4.7,4.6,4.5,4.7,4.6,4.8,4.6,4.7,4.5,4.7,4.6,4.8,4.7,4.6,4.5],
[-0.3,-0.5,-0.4,-0.6,-0.5,-0.7,-0.6,-0.8,-0.7,-0.6,-0.8,-0.7,-0.9,-0.8,-1.0,-0.9,-1.1,-1.0,-1.2,-1.1,-1.3,-1.2,-1.4,-1.3,-1.5,-1.4,-1.6,-1.7],
[5.8,6.0,5.9,6.1,5.9,5.8,6.0,5.9,6.1,5.8,6.0,5.9,5.7,5.9,5.8,6.0,5.8,5.7,5.9,5.8,5.6,5.8,5.7,5.9,5.7,5.6,5.8,5.7],
[0.1,0.3,0.0,0.2,0.1,-0.1,0.1,0.0,0.2,0.0,-0.1,0.1,0.0,-0.2,0.0,-0.1,0.1,-0.1,0.0,-0.2,-0.1,0.0,-0.2,-0.1,-0.3,-0.2,-0.4,-0.3],
[4.6,4.8,4.9,5.0,5.1,5.0,5.2,5.1,5.3,5.2,5.1,5.3,5.2,5.4,5.2,5.3,5.1,5.3,5.2,5.4,5.3,5.2,5.4,5.3,5.5,5.3,5.4,5.3],
[-0.2,-0.4,-0.5,-0.6,-0.5,-0.7,-0.6,-0.8,-0.7,-0.6,-0.8,-0.7,-0.9,-0.8,-0.7,-0.9,-0.8,-1.0,-0.9,-0.8,-1.0,-0.9,-1.1,-1.0,-0.9,-1.1,-1.0,-1.2],
[5.0,5.2,5.3,5.4,5.3,5.5,5.4,5.6,5.5,5.4,5.6,5.5,5.7,5.5,5.6,5.4,5.6,5.5,5.7,5.5,5.6,5.4,5.6,5.5,5.7,5.6,5.5,5.6]];

// Panel EF - UR (RR)
const amp_UR_RR = [
[2.78,2.82,2.81,2.80,2.82,2.81,2.80,2.82,2.81,2.79,2.81,2.82,2.80,2.81,2.82,2.80,2.81,2.82,2.79,2.81,2.80,2.82,2.81,2.80,2.82,2.81,2.83,2.80],
[2.84,2.80,2.82,2.81,2.83,2.82,2.80,2.81,2.83,2.82,2.81,2.80,2.82,2.81,2.83,2.82,2.80,2.81,2.82,2.83,2.81,2.80,2.82,2.81,2.83,2.82,2.81,2.82],
[2.55,2.62,2.61,2.63,2.62,2.60,2.62,2.61,2.63,2.62,2.60,2.61,2.63,2.62,2.61,2.60,2.62,2.63,2.61,2.62,2.60,2.62,2.61,2.63,2.62,2.61,2.63,2.62],
[2.80,3.30,3.32,3.31,3.30,3.32,3.31,3.33,3.30,3.31,3.32,3.30,3.31,3.33,3.32,3.30,3.31,3.32,3.31,3.30,3.32,3.31,3.33,3.30,3.32,3.31,3.30,3.32],
[5.75,6.35,6.33,6.36,6.34,6.35,6.37,6.34,6.36,6.35,6.33,6.36,6.34,6.37,6.35,6.34,6.36,6.35,6.38,6.33,6.37,6.32,6.40,6.30,6.42,6.32,6.50,6.20],
[6.10,5.95,6.00,5.97,5.99,5.96,5.98,6.00,5.97,5.99,5.96,5.98,6.00,5.97,5.99,5.96,5.98,6.00,5.97,5.99,5.96,5.98,5.97,5.99,5.96,5.98,5.97,5.60],
[3.00,3.07,3.06,3.08,3.07,3.06,3.08,3.07,3.06,3.08,3.07,3.06,3.08,3.07,3.09,3.07,3.06,3.08,3.07,3.09,3.06,3.08,3.07,3.09,3.06,3.10,3.08,3.06],
[2.90,2.86,2.87,2.85,2.87,2.86,2.85,2.87,2.86,2.85,2.87,2.86,2.85,2.86,2.87,2.85,2.86,2.87,2.85,2.86,2.87,2.85,2.86,2.87,2.85,2.86,2.84,2.85]];
const phA_UR_RR = [
[1.4,1.6,1.2,1.5,1.3,1.7,1.1,1.4,1.6,1.3,1.5,1.2,1.7,1.4,1.3,1.6,1.2,1.5,1.4,1.7,1.3,1.5,1.1,1.6,1.4,1.2,1.5,1.3],
[1.5,1.3,1.7,1.4,1.6,1.2,1.5,1.8,1.3,1.6,1.4,1.7,1.2,1.5,1.6,1.3,1.7,1.4,1.5,1.2,1.6,1.3,1.8,1.4,1.5,1.7,1.3,1.6],
[2.2,2.0,2.4,2.1,1.9,2.3,2.0,2.2,1.8,2.1,2.3,1.9,2.2,2.0,2.4,2.1,1.9,2.2,2.0,1.8,2.3,2.1,1.9,2.0,2.2,1.8,2.1,1.9],
[1.3,1.5,1.1,1.4,1.2,1.6,1.0,1.3,1.5,1.2,1.4,1.1,1.6,1.3,1.2,1.5,1.1,1.4,1.3,1.6,1.2,1.4,1.0,1.5,1.3,1.1,1.4,1.2],
[2.0,1.8,2.2,1.9,2.1,1.7,2.0,2.2,1.8,2.1,1.9,2.3,1.8,2.0,2.1,1.8,2.2,1.9,2.0,1.7,2.1,1.8,2.2,1.9,2.0,2.1,1.8,2.0],
[1.6,1.4,1.7,1.3,1.5,1.8,1.4,1.6,1.2,1.5,1.7,1.3,1.6,1.4,1.5,1.2,1.6,1.4,1.7,1.3,1.5,1.6,1.3,1.5,1.4,1.7,1.3,1.5],
[1.8,1.6,2.0,1.7,1.9,1.5,1.8,2.1,1.6,1.9,1.7,2.0,1.5,1.8,1.9,1.6,2.0,1.7,1.8,1.5,1.9,1.6,2.0,1.7,1.8,1.9,1.6,1.8],
[1.9,1.6,1.8,2.0,1.5,1.8,1.7,2.1,1.6,1.9,1.7,1.5,2.0,1.8,1.6,1.9,1.7,2.0,1.5,1.8,1.6,1.9,1.7,2.0,1.6,1.8,1.9,1.7]];
const phB_UR_RR = [
[1.5,1.3,1.6,1.4,1.2,1.5,1.3,1.6,1.2,1.4,1.7,1.3,1.5,1.2,1.6,1.4,1.5,1.3,1.6,1.2,1.4,1.6,1.3,1.4,1.5,1.7,1.3,1.6],
[1.6,1.4,1.5,1.7,1.3,1.6,1.4,1.2,1.7,1.5,1.3,1.6,1.4,1.8,1.5,1.2,1.6,1.4,1.7,1.3,1.5,1.6,1.4,1.2,1.7,1.5,1.6,1.4],
[2.0,2.3,1.9,2.1,2.2,1.8,2.0,2.3,2.1,1.9,2.2,2.0,1.8,2.3,2.1,1.9,2.2,2.0,2.1,1.9,2.2,1.8,2.0,2.1,1.9,2.0,1.8,2.0],
[1.4,1.2,1.5,1.3,1.1,1.4,1.2,1.5,1.1,1.3,1.6,1.2,1.4,1.1,1.5,1.3,1.4,1.2,1.5,1.1,1.3,1.5,1.2,1.3,1.4,1.6,1.2,1.5],
[1.9,2.1,1.8,2.0,2.2,1.9,1.7,2.1,1.9,2.0,1.8,2.2,1.9,1.7,2.0,2.1,1.8,2.0,1.9,2.2,1.8,2.0,1.9,1.7,2.1,1.9,2.0,1.8],
[1.5,1.7,1.3,1.6,1.4,1.2,1.5,1.7,1.4,1.6,1.3,1.5,1.7,1.2,1.4,1.6,1.5,1.3,1.6,1.4,1.2,1.5,1.7,1.4,1.3,1.6,1.4,1.5],
[1.7,1.9,1.6,1.8,2.0,1.7,1.5,1.9,1.7,1.8,1.6,2.0,1.7,1.5,1.8,1.9,1.6,1.8,1.7,2.0,1.6,1.8,1.7,1.5,1.9,1.7,1.8,1.6],
[1.6,1.8,1.5,1.9,1.7,2.0,1.6,1.8,1.5,1.7,2.0,1.8,1.6,1.9,1.7,1.5,1.8,1.6,1.9,1.7,2.0,1.6,1.8,1.5,1.9,1.7,1.6,1.8]];

// Panel EF - UR (LL)
const amp_UR_LL = [
[2.79,3.02,3.06,3.03,3.07,3.04,3.06,3.03,3.05,3.04,3.07,3.03,3.05,3.06,3.04,3.05,3.03,3.06,3.04,3.02,3.07,3.01,3.08,3.00,3.10,2.97,3.14,2.95],
[2.97,3.19,3.05,3.15,3.08,3.12,3.06,3.11,3.09,3.10,3.08,3.11,3.09,3.10,3.11,3.08,3.10,3.11,3.09,3.12,3.10,3.13,3.11,3.10,3.12,3.11,3.10,2.85],
[2.54,2.81,2.83,2.80,2.82,2.79,2.81,2.80,2.82,2.80,2.79,2.81,2.80,2.82,2.79,2.81,2.80,2.78,2.82,2.79,2.83,2.78,2.84,2.77,2.86,2.76,2.90,2.69],
[3.12,3.28,3.18,3.24,3.20,3.23,3.21,3.22,3.21,3.22,3.20,3.21,3.22,3.21,3.20,3.22,3.21,3.20,3.21,3.22,3.21,3.20,3.21,3.22,3.21,3.20,3.21,3.18],
[2.12,2.18,2.19,2.18,2.19,2.18,2.17,2.19,2.18,2.19,2.17,2.18,2.19,2.18,2.17,2.19,2.18,2.17,2.19,2.16,2.20,2.15,2.21,2.15,2.22,2.16,2.25,2.12],
[2.16,2.12,2.13,2.14,2.13,2.12,2.14,2.13,2.12,2.14,2.13,2.12,2.13,2.14,2.12,2.13,2.14,2.12,2.13,2.11,2.14,2.12,2.13,2.14,2.12,2.13,2.12,2.05],
[2.80,3.05,3.07,3.05,3.06,3.08,3.05,3.07,3.06,3.08,3.05,3.07,3.09,3.06,3.08,3.10,3.07,3.09,3.11,3.08,3.12,3.09,3.13,3.10,3.16,3.08,3.20,3.10],
[3.00,2.93,2.91,2.94,2.92,2.93,2.91,2.92,2.94,2.92,2.93,2.91,2.92,2.94,2.92,2.93,2.91,2.92,2.93,2.91,2.93,2.92,2.94,2.92,2.93,2.91,2.92,2.69]];
const phA_UR_LL = [
[2.3,2.0,2.6,2.2,2.8,2.1,1.7,2.4,2.0,2.5,1.8,2.2,2.6,2.0,2.4,1.9,2.3,2.1,2.5,1.8,2.2,2.0,2.4,1.9,2.5,2.3,1.8,2.1],
[1.9,1.7,2.0,1.6,2.1,1.8,1.5,2.0,1.7,1.9,1.4,1.8,2.1,1.6,1.9,1.7,2.0,1.5,1.8,1.7,1.9,1.3,1.8,1.6,2.0,1.5,1.7,1.9],
[2.4,2.2,2.4,1.9,2.1,1.8,2.2,2.0,1.7,2.1,1.9,2.2,1.8,2.0,1.6,1.9,2.1,1.8,2.0,1.7,1.9,2.0,1.8,1.6,2.0,1.8,1.9,2.0],
[1.3,2.5,2.0,2.1,2.3,1.9,2.2,2.0,2.1,1.8,2.2,2.0,2.3,1.9,2.1,2.0,2.2,1.8,2.1,2.0,2.3,1.9,2.1,2.0,1.9,2.2,2.0,2.1],
[2.2,2.0,2.3,2.1,1.9,2.2,2.0,2.4,2.1,1.9,2.2,2.0,2.3,2.1,1.8,2.2,2.0,2.1,2.3,1.9,2.1,2.0,2.2,1.9,2.1,2.0,2.2,2.1],
[2.6,2.4,2.0,2.2,1.8,2.1,2.3,1.9,2.0,2.2,1.7,2.0,2.1,1.8,2.2,1.9,2.0,2.1,1.8,2.0,2.2,1.9,1.7,2.0,2.1,1.9,2.0,1.8],
[3.3,1.6,1.3,1.5,1.2,1.4,1.7,1.1,1.4,1.3,1.6,1.0,1.3,1.5,1.2,1.4,1.1,1.3,1.6,1.2,1.4,1.5,1.1,1.3,1.6,1.2,1.5,1.4],
[2.3,2.5,2.2,2.4,2.3,2.5,2.2,2.4,2.3,2.2,2.4,2.3,2.5,2.2,2.4,2.3,2.1,2.4,2.3,2.5,2.2,2.3,2.4,2.2,2.3,2.1,2.3,2.2]];
const phB_UR_LL = [
[2.1,2.4,1.8,2.5,2.0,2.3,1.9,2.6,2.2,1.8,2.4,2.0,2.2,1.7,2.5,2.1,1.9,2.4,2.0,2.3,1.8,2.5,2.1,2.2,1.9,2.4,2.0,2.3],
[1.8,1.6,1.9,1.7,1.5,2.0,1.8,1.6,1.9,1.4,1.7,1.9,1.6,1.8,1.5,2.0,1.7,1.6,1.9,1.8,1.5,1.7,1.9,1.6,1.4,1.8,1.6,1.7],
[2.1,1.9,2.2,2.0,1.8,2.1,1.9,1.7,2.0,1.8,2.1,1.9,1.7,2.0,1.8,1.9,1.7,2.0,1.8,1.6,1.9,1.7,1.8,2.0,1.7,1.9,1.8,1.9],
[2.0,2.2,1.9,2.1,2.0,2.2,1.9,2.1,2.3,2.0,1.9,2.1,2.0,2.2,1.9,2.1,2.0,1.8,2.1,2.0,2.2,1.9,2.1,2.0,2.2,1.9,2.0,2.1],
[2.0,2.2,2.1,1.9,2.3,2.0,2.1,1.8,2.2,2.0,2.1,2.3,1.9,2.0,2.2,2.1,1.9,2.2,2.0,2.1,1.9,2.2,2.0,2.1,2.3,2.0,1.9,2.1],
[2.2,2.5,2.1,1.9,2.0,2.2,1.8,2.1,1.9,2.0,2.2,1.8,2.0,2.1,1.9,1.7,2.0,2.2,1.9,2.1,1.8,2.0,2.1,1.9,2.0,1.8,2.1,1.9],
[1.5,1.7,1.2,1.4,1.6,1.1,1.3,1.5,1.0,1.4,1.2,1.6,1.3,1.1,1.4,1.5,1.2,1.0,1.3,1.5,1.2,1.4,1.6,1.3,1.1,1.4,1.2,1.3],
[2.4,2.2,2.3,2.5,2.3,2.2,2.4,2.3,2.1,2.4,2.3,2.2,2.4,2.3,2.5,2.2,2.3,2.4,2.2,2.3,2.1,2.4,2.3,2.2,2.3,2.4,2.2,2.3]];

// Tick values and tick labels per panel
const phTicks_ZC = [-2,0,2,4],          phLabels_ZC = ["4","0"];
const ampTicks_ZC = [2.2,2.4,2.6,2.8,3.0,3.2,3.4], ampLabels_ZC = ["3.4","3.0","2.6","2.2"];
const phTicks_WB = [-2,0,2,4],          phLabels_WB = ["2","-2"];
const ampTicks_WB_RR = [3.4,3.6,3.8,4.0,4.2], ampLabels_WB_RR = ["4.2","3.8","3.4"];
const ampTicks_WB_LL = [3.4,3.6,3.8,4.0],     ampLabels_WB_LL = ["3.8","3.4"];
const phTicks_SH_RR = [-2,0,2],         phLabels_SH_RR = ["2","-2"];
const ampTicks_SH_RR = [1.8,2.0,2.2],   ampLabels_SH_RR = ["2.2","1.8"];
const phTicks_SH_LL = [-2,0,2,4],       phLabels_SH_LL = ["4","0"];
const ampTicks_SH_LL = [1.6,1.7,1.8,1.9,2.0,2.1,2.2], ampLabels_SH_LL = ["2.0","1.8","1.6"];
const phTicks_BD_RR = [0,5],            phLabels_BD_RR = ["5","0"];
const ampTicks_BD_RR = [2.0,2.2,2.4,2.6], ampLabels_BD_RR = ["2.4","2.0"];
const phTicks_BD_LL = [-4,-2,0,2,4,6,8], phLabels_BD_LL = ["6","2","-2"];
const ampTicks_BD_LL = [2.1,2.2,2.3,2.4,2.5,2.6], ampLabels_BD_LL = ["2.5","2.3","2.1"];
const phTicks_UR_RR = [1.0,1.5,2.0,2.5], phLabels_UR_RR = ["2.0","1.0"];
const ampTicks_UR_RR = [3,4,5,6],       ampLabels_UR_RR = ["5","3"];
const phTicks_UR_LL = [1,2,3],          phLabels_UR_LL = ["3","1"];
const ampTicks_UR_LL = [2.0,2.2,2.4,2.6,2.8,3.0,3.2], ampLabels_UR_LL = ["3.2","2.8","2.4","2.0"];

// which IF labels are printed in each panel
const ifLabelSet5 = [0,1,3,5,7];
const ifLabelSet8 = [0,1,2,3,4,5,6,7];

const panels = [
 {row:0,col:0,base:"EF - ZC",pair:"1 - 7", pol:"LL",amp:amp_ZC,phA:phA_ZC,phB:phB_ZC,phDom:[-2,5.2],ampDom:[2.03,3.48],phT:phTicks_ZC,phL:phLabels_ZC,ampT:ampTicks_ZC,ampL:ampLabels_ZC,ifs:ifLabelSet5},
 {row:0,col:1,base:"EF - WB",pair:"1 - 8", pol:"RR",amp:amp_WB_RR,phA:phA_WB_RR,phB:phB_WB_RR,phDom:[-3.6,4.8],ampDom:[3.32,4.264],phT:phTicks_WB,phL:phLabels_WB,ampT:ampTicks_WB_RR,ampL:ampLabels_WB_RR,ifs:ifLabelSet5},
 {row:0,col:2,base:"EF - WB",pair:"1 - 8", pol:"LL",amp:amp_WB_LL,phA:phA_WB_LL,phB:phB_WB_LL,phDom:[-3.6,4.8],ampDom:[3.33,4.154],phT:phTicks_WB,phL:phLabels_WB,ampT:ampTicks_WB_LL,ampL:ampLabels_WB_LL,ifs:ifLabelSet5},
 {row:1,col:0,base:"EF - SH",pair:"1 - 9", pol:"RR",amp:amp_SH_RR,phA:phA_SH_RR,phB:phB_SH_RR,phDom:[-2.3,3.6],ampDom:[1.64,2.408],phT:phTicks_SH_RR,phL:phLabels_SH_RR,ampT:ampTicks_SH_RR,ampL:ampLabels_SH_RR,ifs:ifLabelSet5},
 {row:1,col:1,base:"EF - SH",pair:"1 - 9", pol:"LL",amp:amp_SH_LL,phA:phA_SH_LL,phB:phB_SH_LL,phDom:[-2,4.37],ampDom:[1.54,2.203],phT:phTicks_SH_LL,phL:phLabels_SH_LL,ampT:ampTicks_SH_LL,ampL:ampLabels_SH_LL,ifs:ifLabelSet5},
 {row:1,col:2,base:"EF - BD",pair:"1 - 10",pol:"RR",amp:amp_BD_RR,phA:phA_BD_RR,phB:phB_BD_RR,phDom:[-4.5,8.4],ampDom:[1.82,2.735],phT:phTicks_BD_RR,phL:phLabels_BD_RR,ampT:ampTicks_BD_RR,ampL:ampLabels_BD_RR,ifs:ifLabelSet5},
 {row:2,col:0,base:"EF - BD",pair:"1 - 10",pol:"LL",amp:amp_BD_LL,phA:phA_BD_LL,phB:phB_BD_LL,phDom:[-4,8.27],ampDom:[2.046,2.663],phT:phTicks_BD_LL,phL:phLabels_BD_LL,ampT:ampTicks_BD_LL,ampL:ampLabels_BD_LL,ifs:ifLabelSet8},
 {row:2,col:1,base:"EF - UR",pair:"1 - 11",pol:"RR",amp:amp_UR_RR,phA:phA_UR_RR,phB:phB_UR_RR,phDom:[0.69,2.96],ampDom:[2.2,6.63],phT:phTicks_UR_RR,phL:phLabels_UR_RR,ampT:ampTicks_UR_RR,ampL:ampLabels_UR_RR,ifs:ifLabelSet8},
 {row:2,col:2,base:"EF - UR",pair:"1 - 11",pol:"LL",amp:amp_UR_LL,phA:phA_UR_LL,phB:phB_UR_LL,phDom:[0.66,3.46],ampDom:[1.90,3.366],phT:phTicks_UR_LL,phL:phLabels_UR_LL,ampT:ampTicks_UR_LL,ampL:ampLabels_UR_LL,ifs:ifLabelSet8}
];

// ---------------- LAYOUT ----------------
const W = 2055, H = 1258;
const colX = [57, 769.5, 1482];
const rowTop = [10, 422, 833.5];
const rowBottom = [377, 791.5, 1203];
const panelW = 533, phaseH = 81, nIF = 8, subW = panelW / nIF;
const chanDomain = [0, 32.8];
const tickFont = 24.5, labelFont = 24, ifFont = 23;
const grey = "#8a8a8a";

const svg = d3.select("body").append("svg").attr("width", W).attr("height", H);
svg.append("rect").attr("width", W).attr("height", H).attr("fill", "#fff");

// title: the top of the page is cut in the original, only its lowest edge shows
svg.append("text").attr("x", 125).attr("y", 1).attr("font-size", 24).text(titleText);

const plus = "M-3.6,0H3.6M0,-3.6V3.6";

function styleAxis(g) {
  g.select(".domain").remove();
  g.selectAll(".tick line").attr("stroke", "#000").attr("stroke-width", 1.2);
  g.selectAll("text").remove();
}
function styleLabels(a) {
  a.select(".domain").remove();
  a.selectAll("text").attr("font-size", tickFont).attr("font-weight", "bold")
    .attr("font-family", '"Liberation Sans",Arial,sans-serif').attr("fill", "#000");
}

panels.forEach(p => {
  const x0 = colX[p.col], y0 = rowTop[p.row], yDiv = y0 + phaseH, yBot = rowBottom[p.row];
  const g = svg.append("g");
  const yPh = d3.scaleLinear().domain(p.phDom).range([yDiv, y0]);
  const yAmp = d3.scaleLinear().domain(p.ampDom).range([yBot, yDiv]);

  if (p.phDom[0] < 0 && p.phDom[1] > 0) {
    g.append("line").attr("x1", x0).attr("x2", x0 + panelW)
      .attr("y1", yPh(0)).attr("y2", yPh(0)).attr("stroke", "#000").attr("stroke-width", 1.3);
  }

  for (let i = 0; i < nIF; i++) {
    const sx = x0 + i * subW;
    const x = d3.scaleLinear().domain(chanDomain).range([sx, sx + subW]);

    g.append("g").attr("transform", `translate(0,${y0})`)
      .call(d3.axisBottom(x).tickValues(xTicks).tickSize(5)).call(styleAxis);
    g.append("g").attr("transform", `translate(0,${yDiv})`)
      .call(d3.axisBottom(x).tickValues(xTicks).tickSize(6)).call(styleAxis);
    g.append("g").attr("transform", `translate(0,${yBot})`)
      .call(d3.axisTop(x).tickValues(xTicks).tickSize(6)).call(styleAxis);

    [p.phA[i], p.phB[i]].forEach(series => {
      const pts = series.map((v, k) => ({c: channels[k], v, k}));
      g.append("g").selectAll("path").data(pts.filter(d => d.k % 2 === 1)).join("path")
        .attr("d", plus).attr("transform", d => `translate(${x(d.c)},${yPh(d.v)})`)
        .attr("stroke", grey).attr("stroke-width", 1.1).attr("fill", "none");
      g.append("g").selectAll("path").data(pts.filter(d => d.k % 2 === 0)).join("path")
        .attr("d", plus).attr("transform", d => `translate(${x(d.c)},${yPh(d.v)})`)
        .attr("stroke", "#000").attr("stroke-width", 1.1).attr("fill", "none");
    });

    const apts = p.amp[i].map((v, k) => ({c: channels[k], v, k}));
    g.append("path").datum(apts)
      .attr("d", d3.line().x(d => x(d.c)).y(d => yAmp(d.v)))
      .attr("fill", "none").attr("stroke", "#111").attr("stroke-width", 0.9);
    g.append("g").selectAll("path").data(apts.filter(d => d.k % 2 === 1)).join("path")
      .attr("d", plus).attr("transform", d => `translate(${x(d.c)},${yAmp(d.v)})`)
      .attr("stroke", grey).attr("stroke-width", 1.1).attr("fill", "none");
    g.append("g").selectAll("path").data(apts.filter(d => d.k % 2 === 0)).join("path")
      .attr("d", plus).attr("transform", d => `translate(${x(d.c)},${yAmp(d.v)})`)
      .attr("stroke", "#000").attr("stroke-width", 1.1).attr("fill", "none");

    if (p.row === 2) {
      const ax = g.append("g").attr("transform", `translate(0,${yBot})`)
        .call(d3.axisBottom(x).tickValues(xTickLabels.map(Number)).tickSize(0).tickPadding(8).tickFormat(d => String(d)));
      styleLabels(ax);
    }
  }

  for (let i = 0; i <= nIF; i++) {
    const bx = x0 + i * subW;
    if (i > 0 && i < nIF) {
      g.append("line").attr("x1", bx).attr("x2", bx).attr("y1", y0).attr("y2", yBot)
        .attr("stroke", "#111").attr("stroke-width", 1.3);
    }
    if (i < nIF) {
      g.append("g").attr("transform", `translate(${bx},0)`).call(d3.axisRight(yPh).tickValues(p.phT).tickSize(6)).call(styleAxis);
      g.append("g").attr("transform", `translate(${bx},0)`).call(d3.axisRight(yAmp).tickValues(p.ampT).tickSize(6)).call(styleAxis);
    }
    if (i > 0) {
      g.append("g").attr("transform", `translate(${bx},0)`).call(d3.axisLeft(yPh).tickValues(p.phT).tickSize(6)).call(styleAxis);
      g.append("g").attr("transform", `translate(${bx},0)`).call(d3.axisLeft(yAmp).tickValues(p.ampT).tickSize(6)).call(styleAxis);
    }
  }

  g.append("rect").attr("x", x0).attr("y", y0).attr("width", panelW).attr("height", yBot - y0)
    .attr("fill", "none").attr("stroke", "#000").attr("stroke-width", 1.6);
  g.append("line").attr("x1", x0).attr("x2", x0 + panelW).attr("y1", yDiv).attr("y2", yDiv)
    .attr("stroke", "#000").attr("stroke-width", 1.6);

  const labPh = g.append("g").attr("transform", `translate(${x0},0)`)
    .call(d3.axisLeft(yPh).tickValues(p.phL.map(Number)).tickSize(0).tickPadding(11)
      .tickFormat((d, k) => p.phL[k]));
  const labAmp = g.append("g").attr("transform", `translate(${x0},0)`)
    .call(d3.axisLeft(yAmp).tickValues(p.ampL.map(Number)).tickSize(0).tickPadding(11)
      .tickFormat((d, k) => p.ampL[k]));
  styleLabels(labPh); styleLabels(labAmp);

  g.append("text").attr("x", x0 + 6).attr("y", yDiv + 28).attr("font-size", labelFont).text(p.base);
  g.append("text").attr("x", x0 + panelW - 27).attr("y", yDiv + 28).attr("text-anchor", "end")
    .attr("font-size", labelFont).text(p.pair);

  // IF labels (they overprint each other in the original plot)
  p.ifs.forEach(i => {
    g.append("text").attr("x", x0 + i * subW + 15.7).attr("y", yBot - 21)
      .attr("font-size", ifFont).text(`${ifNames[i]}(${p.pol})`);
  });

  if (p.row === 2) {
    g.append("text").attr("x", x0 + panelW / 2).attr("y", yBot + 44).attr("text-anchor", "middle")
      .attr("font-size", 20).text(xAxisTitle);
  }
});
</script>
</body></html>
